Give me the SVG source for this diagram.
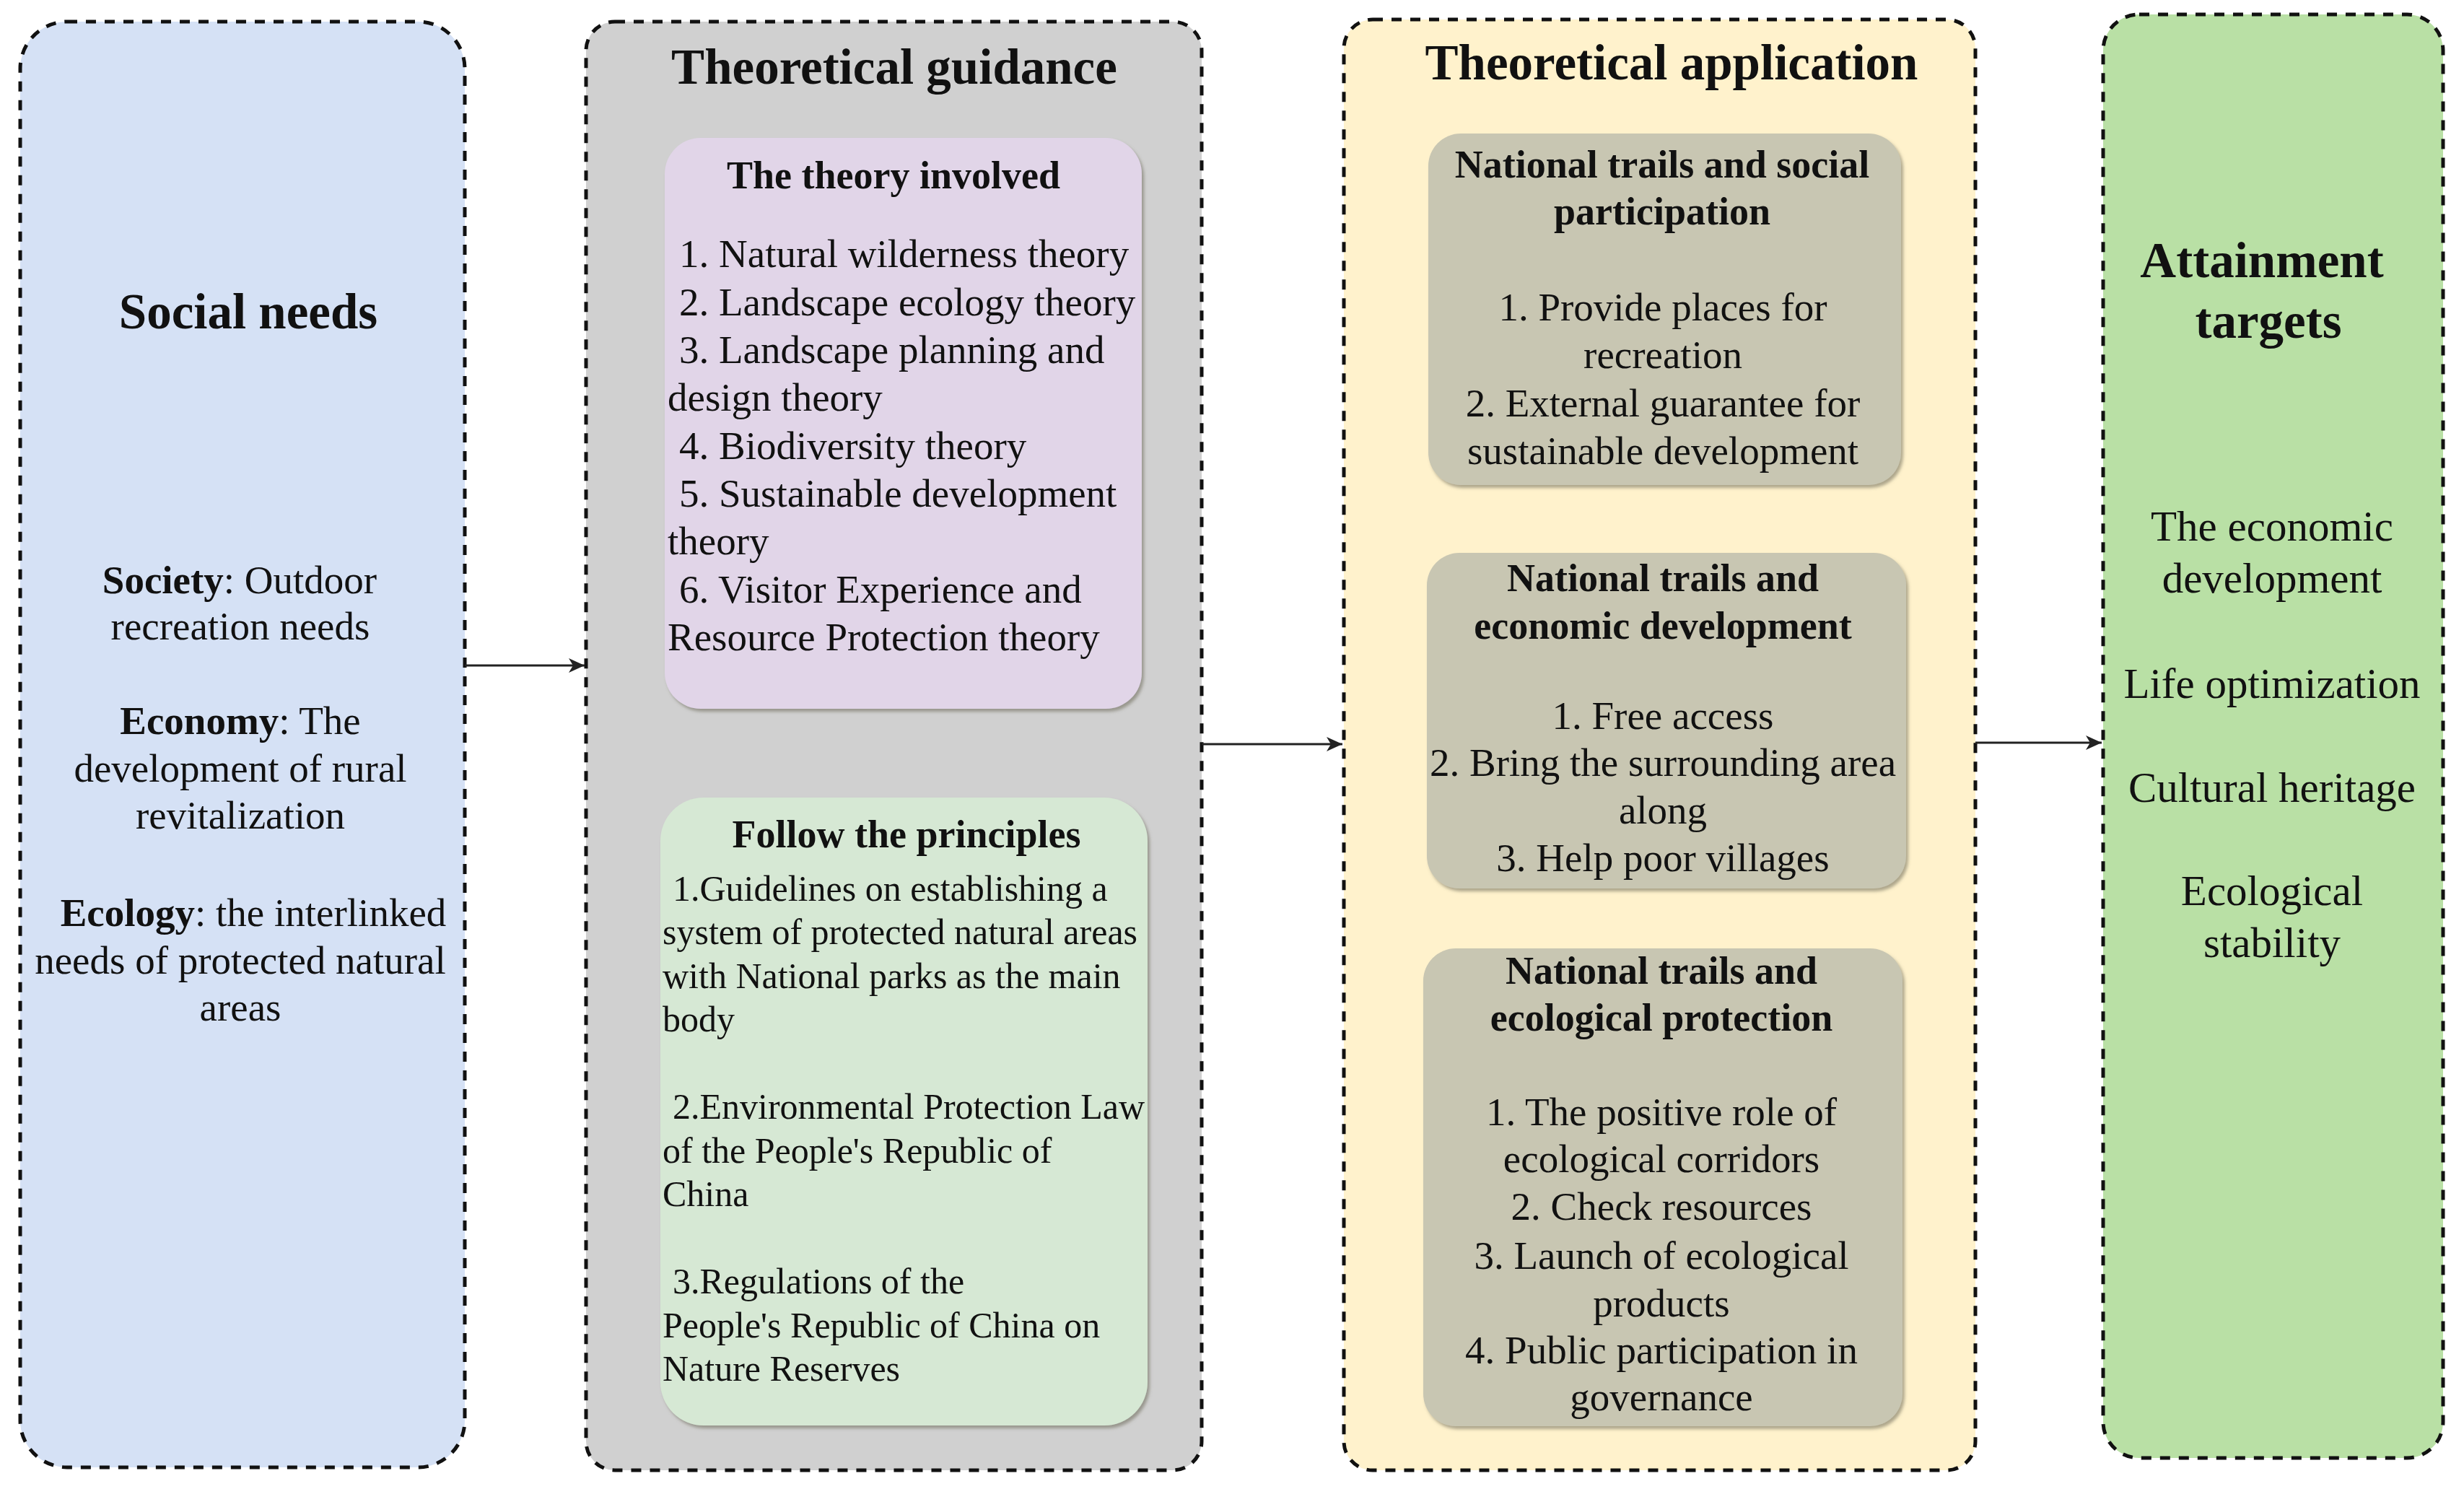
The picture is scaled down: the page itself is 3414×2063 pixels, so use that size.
<svg xmlns="http://www.w3.org/2000/svg" width="3414" height="2063" viewBox="0 0 3414 2063">
<style>
.outer{stroke:#111;stroke-width:5;stroke-dasharray:14 12;}
.t{font-family:"Liberation Serif","Times New Roman",serif;fill:#111;}
.h1{font-size:69px;font-weight:bold;text-anchor:middle;}
.h2{font-size:54px;font-weight:bold;text-anchor:middle;}
.b55{font-size:55px;}
.b50{font-size:50px;}
.b59{font-size:59px;text-anchor:middle;}
.mid{text-anchor:middle;}
.conn{stroke:#222;stroke-width:3;fill:none;}
</style>
<defs>
<filter id="sh" x="-5%" y="-5%" width="110%" height="110%">
<feDropShadow dx="3" dy="4" stdDeviation="2" flood-color="#6b6656" flood-opacity="0.55"/>
</filter>
<marker id="arr" markerWidth="24" markerHeight="22" refX="22" refY="10" orient="auto" markerUnits="userSpaceOnUse">
<path d="M0,0 L22,10 L0,20 L6,10 z" fill="#222"/>
</marker>
</defs>
<rect width="3414" height="2063" fill="#ffffff"/>

<g id="social-needs">
<rect class="outer" x="28" y="30" width="616" height="2003" rx="65" fill="#D5E1F5"/>
<text class="t h1" x="344" y="455">Social needs</text>
<text class="t b55 mid" x="332" y="822"><tspan font-weight="bold">Society</tspan>: Outdoor</text>
<text class="t b55 mid" x="333" y="886">recreation needs</text>
<text class="t b55 mid" x="333" y="1017"><tspan font-weight="bold">Economy</tspan>: The</text>
<text class="t b55 mid" x="333" y="1083">development of rural</text>
<text class="t b55 mid" x="333" y="1148">revitalization</text>
<text class="t b55 mid" x="351" y="1283"><tspan font-weight="bold">Ecology</tspan>: the interlinked</text>
<text class="t b55 mid" x="333" y="1349">needs of protected natural</text>
<text class="t b55 mid" x="333" y="1414">areas</text>
</g>

<g id="theoretical-guidance">
<rect class="outer" x="812" y="30" width="853" height="2007" rx="40" fill="#D0D0D0"/>
<text class="t h1" x="1239" y="116">Theoretical guidance</text>
</g>

<g id="theory-involved">
<rect x="921" y="191" width="661" height="791" rx="50" fill="#E1D5E8" filter="url(#sh)"/>
<text class="t h2" x="1238" y="261">The theory involved</text>
<text class="t b55" x="941" y="370">1. Natural wilderness theory</text>
<text class="t b55" x="941" y="437">2. Landscape ecology theory</text>
<text class="t b55" x="941" y="503">3. Landscape planning and</text>
<text class="t b55" x="925" y="569">design theory</text>
<text class="t b55" x="941" y="636">4. Biodiversity theory</text>
<text class="t b55" x="941" y="702">5. Sustainable development</text>
<text class="t b55" x="925" y="768">theory</text>
<text class="t b55" x="941" y="835">6. Visitor Experience and</text>
<text class="t b55" x="925" y="901">Resource Protection theory</text>
</g>

<g id="follow-principles">
<rect x="915" y="1105" width="675" height="870" rx="60" fill="#D6E8D4" filter="url(#sh)"/>
<text class="t h2" x="1256" y="1174">Follow the principles</text>
<text class="t b50" x="932" y="1248">1.Guidelines on establishing a</text>
<text class="t b50" x="918" y="1308">system of protected natural areas</text>
<text class="t b50" x="918" y="1369">with National parks as the main</text>
<text class="t b50" x="918" y="1429">body</text>
<text class="t b50" x="932" y="1550">2.Environmental Protection Law</text>
<text class="t b50" x="918" y="1611">of the People's Republic of</text>
<text class="t b50" x="918" y="1671">China</text>
<text class="t b50" x="932" y="1792">3.Regulations of the</text>
<text class="t b50" x="918" y="1853">People's Republic of China on</text>
<text class="t b50" x="918" y="1913">Nature Reserves</text>
</g>

<g id="theoretical-application">
<rect class="outer" x="1862" y="27" width="875" height="2010" rx="40" fill="#FFF2CC"/>
<text class="t h1" x="2316" y="110">Theoretical application</text>
</g>

<g id="social-participation">
<rect x="1979" y="185" width="655" height="487" rx="45" fill="#C8C6B2" filter="url(#sh)"/>
<text class="t h2" x="2303" y="246">National trails and social</text>
<text class="t h2" x="2303" y="311">participation</text>
<text class="t b55 mid" x="2304" y="444">1. Provide places for</text>
<text class="t b55 mid" x="2304" y="510">recreation</text>
<text class="t b55 mid" x="2304" y="577">2. External guarantee for</text>
<text class="t b55 mid" x="2304" y="643">sustainable development</text>
</g>

<g id="economic-development">
<rect x="1977" y="766" width="664" height="465" rx="45" fill="#C8C6B2" filter="url(#sh)"/>
<text class="t h2" x="2304" y="819">National trails and</text>
<text class="t h2" x="2304" y="885">economic development</text>
<text class="t b55 mid" x="2304" y="1010">1. Free access</text>
<text class="t b55 mid" x="2304" y="1075">2. Bring the surrounding area</text>
<text class="t b55 mid" x="2304" y="1141">along</text>
<text class="t b55 mid" x="2304" y="1207">3. Help poor villages</text>
</g>

<g id="ecological-protection">
<rect x="1972" y="1314" width="664" height="662" rx="45" fill="#C8C6B2" filter="url(#sh)"/>
<text class="t h2" x="2302" y="1363">National trails and</text>
<text class="t h2" x="2302" y="1428">ecological protection</text>
<text class="t b55 mid" x="2302" y="1559">1. The positive role of</text>
<text class="t b55 mid" x="2302" y="1624">ecological corridors</text>
<text class="t b55 mid" x="2302" y="1690">2. Check resources</text>
<text class="t b55 mid" x="2302" y="1758">3. Launch of ecological</text>
<text class="t b55 mid" x="2302" y="1824">products</text>
<text class="t b55 mid" x="2302" y="1889">4. Public participation in</text>
<text class="t b55 mid" x="2302" y="1954">governance</text>
</g>

<g id="attainment-targets">
<rect class="outer" x="2914" y="20" width="471" height="2000" rx="50" fill="#B9E0A5"/>
<text class="t h1" x="3134" y="384">Attainment</text>
<text class="t h1" x="3143" y="468">targets</text>
<text class="t b59" x="3148" y="749">The economic</text>
<text class="t b59" x="3148" y="821">development</text>
<text class="t b59" x="3148" y="967">Life optimization</text>
<text class="t b59" x="3148" y="1111">Cultural heritage</text>
<text class="t b59" x="3148" y="1254">Ecological</text>
<text class="t b59" x="3148" y="1326">stability</text>
</g>

<g id="connectors">
<path class="conn" d="M644,922 L810,922" marker-end="url(#arr)"/>
<path class="conn" d="M1665,1031 L1860,1031" marker-end="url(#arr)"/>
<path class="conn" d="M2737,1029 L2912,1029" marker-end="url(#arr)"/>
</g>
</svg>
